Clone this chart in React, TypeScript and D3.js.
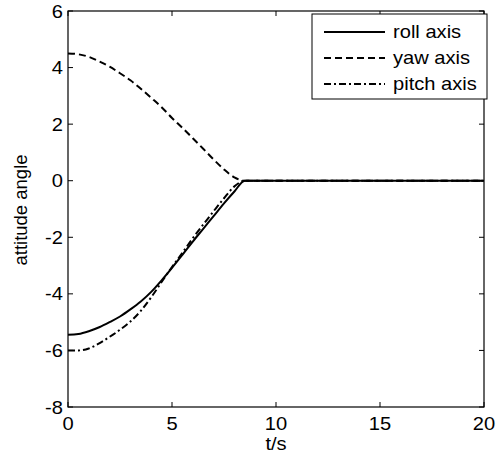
import React from "react";
import * as d3 from "d3";

// time samples (s)
const times = [0, 0.5, 1, 1.5, 2, 2.5, 3, 3.5, 4, 4.5, 5, 5.5, 6, 6.5, 7, 7.5, 8, 8.5, 9, 20];

// attitude angles
const rollAxis = [-5.45, -5.42, -5.32, -5.18, -5.0, -4.8, -4.55, -4.27, -3.93, -3.52, -3.08, -2.62, -2.15, -1.7, -1.25, -0.8, -0.38, 0, 0, 0];
const yawAxis = [4.5, 4.47, 4.38, 4.22, 4.03, 3.8, 3.55, 3.25, 2.93, 2.6, 2.22, 1.87, 1.5, 1.13, 0.75, 0.4, 0.12, 0, 0, 0];
const pitchAxis = [-6.0, -6.0, -5.93, -5.75, -5.52, -5.27, -4.98, -4.6, -4.12, -3.58, -3.05, -2.55, -2.03, -1.55, -1.08, -0.62, -0.2, 0, 0, 0];

const xTicks = [0, 5, 10, 15, 20];
const yTicks = [-8, -6, -4, -2, 0, 2, 4, 6];

const seriesNames = ["roll axis", "yaw axis", "pitch axis"];
const seriesDash = ["none", "7,4", "7,3,2,3"];

const W = 500;
const H = 456;
const margin = { left: 68, right: 16, top: 11, bottom: 49 };
const FONT = "'Liberation Sans', Arial, Helvetica, sans-serif";
const FS = 17.5;
const SX = 1.15; // text in the reference is a bit wide

function T(props: { x: number; y: number; anchor?: string; children: React.ReactNode }) {
  return (
    <text
      transform={`translate(${props.x},${props.y}) scale(${SX},1)`}
      textAnchor={props.anchor ?? "start"}
      fontSize={FS}
    >
      {props.children}
    </text>
  );
}

export default function App() {
  const x = d3.scaleLinear().domain([0, 20]).range([margin.left, W - margin.right]);
  const y = d3.scaleLinear().domain([-8, 6]).range([H - margin.bottom, margin.top]);

  const line = d3
    .line<number>()
    .x((_, i) => x(times[i]))
    .y((d) => y(d))
    .curve(d3.curveMonotoneX);

  const series = [rollAxis, yawAxis, pitchAxis];
  const x0 = x.range()[0];
  const x1 = x.range()[1];
  const y0 = y.range()[0];
  const y1 = y.range()[1];
  const tl = 5;

  const lg = { x: 312, y: 14, w: 175, h: 85 };

  return (
    <div style={{ position: "absolute", left: 0, top: 0 }}>
      <svg width={W} height={H} style={{ background: "#fff", display: "block" }} fontFamily={FONT}>
        {series.map((s, i) => (
          <path
            key={i}
            d={line(s) ?? ""}
            fill="none"
            stroke="#000"
            strokeWidth={2}
            strokeDasharray={seriesDash[i]}
          />
        ))}

        {/* axes box */}
        <rect x={x0} y={y1} width={x1 - x0} height={y0 - y1} fill="none" stroke="#000" strokeWidth={1.2} />

        {xTicks.map((t) => (
          <g key={"x" + t}>
            <line x1={x(t)} x2={x(t)} y1={y0} y2={y0 - tl} stroke="#000" />
            <line x1={x(t)} x2={x(t)} y1={y1} y2={y1 + tl} stroke="#000" />
            <T x={x(t)} y={y0 + 23} anchor="middle">
              {t}
            </T>
          </g>
        ))}
        {yTicks.map((t) => (
          <g key={"y" + t}>
            <line x1={x0} x2={x0 + tl} y1={y(t)} y2={y(t)} stroke="#000" />
            <line x1={x1} x2={x1 - tl} y1={y(t)} y2={y(t)} stroke="#000" />
            <T x={x0 - 5} y={y(t) + 6.5} anchor="end">
              {t}
            </T>
          </g>
        ))}

        <T x={(x0 + x1) / 2} y={450} anchor="middle">
          t/s
        </T>
        <text transform={`translate(27,${(y0 + y1) / 2 + 1}) rotate(-90)`} textAnchor="middle" fontSize={18.5}>
          attitude angle
        </text>

        {/* legend */}
        <rect x={lg.x} y={lg.y} width={lg.w} height={lg.h} fill="#fff" stroke="#000" strokeWidth={1} />
        {seriesNames.map((n, i) => {
          const cy = 32 + i * 26;
          return (
            <g key={n}>
              <line x1={324} x2={385} y1={cy} y2={cy} stroke="#000" strokeWidth={2} strokeDasharray={seriesDash[i]} />
              <T x={393} y={cy + 6}>
                {n}
              </T>
            </g>
          );
        })}
      </svg>
    </div>
  );
}
